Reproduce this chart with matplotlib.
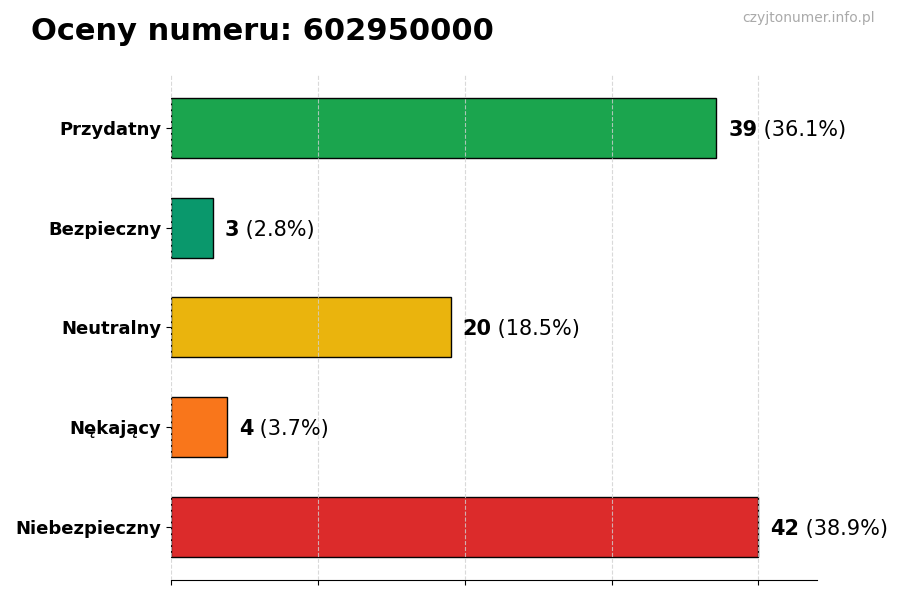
import matplotlib.pyplot as plt
import numpy as np

##############################################################################
# Data

CATEGORIES = ["Przydatny", "Bezpieczny", "Neutralny", "Nękający", "Niebezpieczny"]
COUNTS = [39, 3, 20, 4, 42]
PERCENTS = [36.1, 2.8, 18.5, 3.7, 38.9]
COLORS = ["#16a34a", "#059669", "#eab308", "#f97316", "#dc2626"]

TITLE = "Oceny numeru: 602950000"
WATERMARK = "czyjtonumer.info.pl"

##############################################################################
# Plotting

fig = plt.figure(figsize=(9, 6), dpi=100)
ax = fig.add_axes([0.19, 0.0333, 0.718, 0.842])

y = np.arange(len(CATEGORIES))[::-1]
ax.barh(y, COUNTS, height=0.6, color=COLORS, edgecolor="black",
        linewidth=1, alpha=0.98, zorder=2)

max_val = max(COUNTS)
ax.set_xlim(0, max_val * 1.1)
ax.set_xticks(np.linspace(0, max_val, 5))
ax.set_xticklabels([])
ax.grid(axis="x", linestyle="--", color="#d0d0d0", linewidth=0.8,
        alpha=0.8, zorder=3)
ax.set_axisbelow(False)

ax.set_yticks(y)
ax.set_yticklabels(CATEGORIES, fontsize=13, fontweight="bold")

for spine in ["top", "right", "left"]:
    ax.spines[spine].set_visible(False)

# Value labels: bold count followed by the percentage
offset = max_val * 0.02
for yi, c, p in zip(y, COUNTS, PERCENTS):
    t = ax.text(c + offset, yi, str(c), fontsize=15, fontweight="bold",
                va="center_baseline", ha="left")
    ax.annotate(f" ({p}%)", xycoords=t, xy=(1, 0), va="bottom",
                ha="left", fontsize=15)

fig.text(0.034, 0.948, TITLE, fontsize=22, fontweight="bold", va="center")
fig.text(0.972, 0.97, WATERMARK, fontsize=10, color="#aaaaaa",
         ha="right", va="center")

fig.savefig("out.png", dpi=100)
